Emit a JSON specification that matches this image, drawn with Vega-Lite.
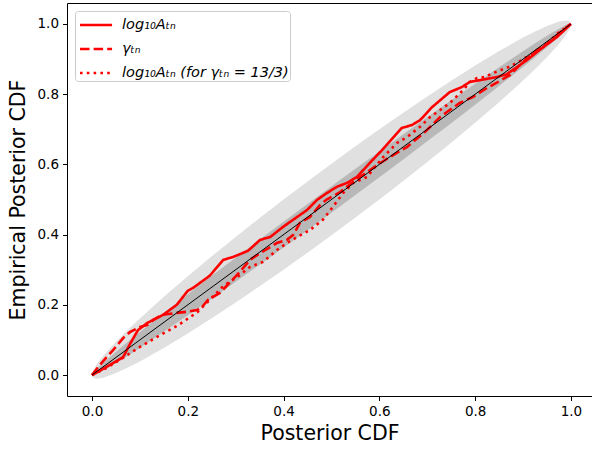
{
  "$schema": "https://vega.github.io/schema/vega-lite/v6.json",
  "width": 525,
  "height": 393,
  "autosize": {"type": "none"},
  "padding": {"left": 67, "top": 3, "right": 0, "bottom": 54},
  "config": {
    "view": {"stroke": null},
    "font": "DejaVu Sans",
    "axis": {
      "domainColor": "black", "tickColor": "black", "labelColor": "black", "titleColor": "black",
      "labelFontSize": 13.5, "titleFontSize": 20.5, "titleFontWeight": "normal",
      "grid": false, "tickSize": 4.5, "labelPadding": 4, "domainWidth": 1, "tickWidth": 1,
      "labelFont": "DejaVu Sans", "titleFont": "DejaVu Sans"
    }
  },
  "datasets": {
    "band": [
      {"x": 0, "l1": 0, "h1": 0, "l2": 0, "h2": 0},
      {"x": 0.003, "l1": -0.0082, "h1": 0.0142, "l2": -0.0011, "h2": 0.0071},
      {"x": 0.01, "l1": -0.0103, "h1": 0.0303, "l2": 0.0025, "h2": 0.0175},
      {"x": 0.025, "l1": -0.0068, "h1": 0.0568, "l2": 0.0133, "h2": 0.0367},
      {"x": 0.05, "l1": 0.0055, "h1": 0.0945, "l2": 0.0337, "h2": 0.0663},
      {"x": 0.075, "l1": 0.0213, "h1": 0.1287, "l2": 0.0552, "h2": 0.0948},
      {"x": 0.1, "l1": 0.0388, "h1": 0.1612, "l2": 0.0775, "h2": 0.1225},
      {"x": 0.15, "l1": 0.0772, "h1": 0.2228, "l2": 0.1232, "h2": 0.1768},
      {"x": 0.2, "l1": 0.1184, "h1": 0.2816, "l2": 0.17, "h2": 0.23},
      {"x": 0.25, "l1": 0.1617, "h1": 0.3383, "l2": 0.2175, "h2": 0.2825},
      {"x": 0.3, "l1": 0.2065, "h1": 0.3935, "l2": 0.2656, "h2": 0.3344},
      {"x": 0.35, "l1": 0.2527, "h1": 0.4473, "l2": 0.3142, "h2": 0.3858},
      {"x": 0.4, "l1": 0.3001, "h1": 0.4999, "l2": 0.3633, "h2": 0.4367},
      {"x": 0.45, "l1": 0.3485, "h1": 0.5515, "l2": 0.4127, "h2": 0.4873},
      {"x": 0.5, "l1": 0.398, "h1": 0.602, "l2": 0.4625, "h2": 0.5375},
      {"x": 0.55, "l1": 0.4485, "h1": 0.6515, "l2": 0.5127, "h2": 0.5873},
      {"x": 0.6, "l1": 0.5001, "h1": 0.6999, "l2": 0.5633, "h2": 0.6367},
      {"x": 0.65, "l1": 0.5527, "h1": 0.7473, "l2": 0.6142, "h2": 0.6858},
      {"x": 0.7, "l1": 0.6065, "h1": 0.7935, "l2": 0.6656, "h2": 0.7344},
      {"x": 0.75, "l1": 0.6617, "h1": 0.8383, "l2": 0.7175, "h2": 0.7825},
      {"x": 0.8, "l1": 0.7184, "h1": 0.8816, "l2": 0.77, "h2": 0.83},
      {"x": 0.85, "l1": 0.7772, "h1": 0.9228, "l2": 0.8232, "h2": 0.8768},
      {"x": 0.9, "l1": 0.8388, "h1": 0.9612, "l2": 0.8775, "h2": 0.9225},
      {"x": 0.925, "l1": 0.8713, "h1": 0.9787, "l2": 0.9052, "h2": 0.9448},
      {"x": 0.95, "l1": 0.9055, "h1": 0.9945, "l2": 0.9337, "h2": 0.9663},
      {"x": 0.975, "l1": 0.9432, "h1": 1.0068, "l2": 0.9633, "h2": 0.9867},
      {"x": 0.99, "l1": 0.9697, "h1": 1.0103, "l2": 0.9825, "h2": 0.9975},
      {"x": 0.997, "l1": 0.9858, "h1": 1.0082, "l2": 0.9929, "h2": 1.0011},
      {"x": 1, "l1": 1, "h1": 1, "l2": 1, "h2": 1}
    ],
    "curves": [
      {"series": "log₁₀Aₜₙ", "x": 0, "y": 0},
      {"series": "log₁₀Aₜₙ", "x": 0.02, "y": 0.015},
      {"series": "log₁₀Aₜₙ", "x": 0.044, "y": 0.034},
      {"series": "log₁₀Aₜₙ", "x": 0.065, "y": 0.051},
      {"series": "log₁₀Aₜₙ", "x": 0.08, "y": 0.09},
      {"series": "log₁₀Aₜₙ", "x": 0.096, "y": 0.128},
      {"series": "log₁₀Aₜₙ", "x": 0.115, "y": 0.148},
      {"series": "log₁₀Aₜₙ", "x": 0.148, "y": 0.171},
      {"series": "log₁₀Aₜₙ", "x": 0.177, "y": 0.2},
      {"series": "log₁₀Aₜₙ", "x": 0.2, "y": 0.24},
      {"series": "log₁₀Aₜₙ", "x": 0.211, "y": 0.248},
      {"series": "log₁₀Aₜₙ", "x": 0.246, "y": 0.283},
      {"series": "log₁₀Aₜₙ", "x": 0.274, "y": 0.328},
      {"series": "log₁₀Aₜₙ", "x": 0.294, "y": 0.336},
      {"series": "log₁₀Aₜₙ", "x": 0.326, "y": 0.354},
      {"series": "log₁₀Aₜₙ", "x": 0.351, "y": 0.385},
      {"series": "log₁₀Aₜₙ", "x": 0.372, "y": 0.393},
      {"series": "log₁₀Aₜₙ", "x": 0.399, "y": 0.422},
      {"series": "log₁₀Aₜₙ", "x": 0.428, "y": 0.45},
      {"series": "log₁₀Aₜₙ", "x": 0.449, "y": 0.47},
      {"series": "log₁₀Aₜₙ", "x": 0.47, "y": 0.499},
      {"series": "log₁₀Aₜₙ", "x": 0.49, "y": 0.518},
      {"series": "log₁₀Aₜₙ", "x": 0.511, "y": 0.536},
      {"series": "log₁₀Aₜₙ", "x": 0.532, "y": 0.547},
      {"series": "log₁₀Aₜₙ", "x": 0.553, "y": 0.564},
      {"series": "log₁₀Aₜₙ", "x": 0.58, "y": 0.604},
      {"series": "log₁₀Aₜₙ", "x": 0.605, "y": 0.64},
      {"series": "log₁₀Aₜₙ", "x": 0.647, "y": 0.704},
      {"series": "log₁₀Aₜₙ", "x": 0.668, "y": 0.712},
      {"series": "log₁₀Aₜₙ", "x": 0.685, "y": 0.726},
      {"series": "log₁₀Aₜₙ", "x": 0.71, "y": 0.763},
      {"series": "log₁₀Aₜₙ", "x": 0.747, "y": 0.806},
      {"series": "log₁₀Aₜₙ", "x": 0.772, "y": 0.82},
      {"series": "log₁₀Aₜₙ", "x": 0.789, "y": 0.835},
      {"series": "log₁₀Aₜₙ", "x": 0.81, "y": 0.84},
      {"series": "log₁₀Aₜₙ", "x": 0.846, "y": 0.849},
      {"series": "log₁₀Aₜₙ", "x": 0.866, "y": 0.857},
      {"series": "log₁₀Aₜₙ", "x": 0.908, "y": 0.897},
      {"series": "log₁₀Aₜₙ", "x": 0.942, "y": 0.934},
      {"series": "log₁₀Aₜₙ", "x": 0.971, "y": 0.963},
      {"series": "log₁₀Aₜₙ", "x": 1, "y": 1},
      {"series": "γₜₙ", "x": 0, "y": 0},
      {"series": "γₜₙ", "x": 0.017, "y": 0.03},
      {"series": "γₜₙ", "x": 0.044, "y": 0.071},
      {"series": "γₜₙ", "x": 0.065, "y": 0.105},
      {"series": "γₜₙ", "x": 0.079, "y": 0.122},
      {"series": "γₜₙ", "x": 0.1, "y": 0.137},
      {"series": "γₜₙ", "x": 0.115, "y": 0.142},
      {"series": "γₜₙ", "x": 0.128, "y": 0.157},
      {"series": "γₜₙ", "x": 0.146, "y": 0.171},
      {"series": "γₜₙ", "x": 0.177, "y": 0.177},
      {"series": "γₜₙ", "x": 0.198, "y": 0.18},
      {"series": "γₜₙ", "x": 0.219, "y": 0.185},
      {"series": "γₜₙ", "x": 0.23, "y": 0.194},
      {"series": "γₜₙ", "x": 0.242, "y": 0.214},
      {"series": "γₜₙ", "x": 0.267, "y": 0.234},
      {"series": "γₜₙ", "x": 0.282, "y": 0.255},
      {"series": "γₜₙ", "x": 0.303, "y": 0.285},
      {"series": "γₜₙ", "x": 0.33, "y": 0.328},
      {"series": "γₜₙ", "x": 0.351, "y": 0.347},
      {"series": "γₜₙ", "x": 0.386, "y": 0.376},
      {"series": "γₜₙ", "x": 0.407, "y": 0.385},
      {"series": "γₜₙ", "x": 0.42, "y": 0.399},
      {"series": "γₜₙ", "x": 0.434, "y": 0.433},
      {"series": "γₜₙ", "x": 0.455, "y": 0.45},
      {"series": "γₜₙ", "x": 0.476, "y": 0.484},
      {"series": "γₜₙ", "x": 0.49, "y": 0.5},
      {"series": "γₜₙ", "x": 0.518, "y": 0.521},
      {"series": "γₜₙ", "x": 0.545, "y": 0.55},
      {"series": "γₜₙ", "x": 0.566, "y": 0.57},
      {"series": "γₜₙ", "x": 0.595, "y": 0.598},
      {"series": "γₜₙ", "x": 0.622, "y": 0.621},
      {"series": "γₜₙ", "x": 0.658, "y": 0.65},
      {"series": "γₜₙ", "x": 0.695, "y": 0.692},
      {"series": "γₜₙ", "x": 0.727, "y": 0.735},
      {"series": "γₜₙ", "x": 0.747, "y": 0.755},
      {"series": "γₜₙ", "x": 0.768, "y": 0.775},
      {"series": "γₜₙ", "x": 0.795, "y": 0.792},
      {"series": "γₜₙ", "x": 0.825, "y": 0.818},
      {"series": "γₜₙ", "x": 0.848, "y": 0.835},
      {"series": "γₜₙ", "x": 0.873, "y": 0.855},
      {"series": "γₜₙ", "x": 0.9, "y": 0.892},
      {"series": "γₜₙ", "x": 0.929, "y": 0.926},
      {"series": "γₜₙ", "x": 0.956, "y": 0.949},
      {"series": "γₜₙ", "x": 0.983, "y": 0.983},
      {"series": "γₜₙ", "x": 1, "y": 1},
      {"series": "log₁₀Aₜₙ (for γₜₙ = 13/3)", "x": 0, "y": 0},
      {"series": "log₁₀Aₜₙ (for γₜₙ = 13/3)", "x": 0.03, "y": 0.02},
      {"series": "log₁₀Aₜₙ (for γₜₙ = 13/3)", "x": 0.06, "y": 0.045},
      {"series": "log₁₀Aₜₙ (for γₜₙ = 13/3)", "x": 0.1, "y": 0.08},
      {"series": "log₁₀Aₜₙ (for γₜₙ = 13/3)", "x": 0.135, "y": 0.108},
      {"series": "log₁₀Aₜₙ (for γₜₙ = 13/3)", "x": 0.18, "y": 0.142},
      {"series": "log₁₀Aₜₙ (for γₜₙ = 13/3)", "x": 0.221, "y": 0.18},
      {"series": "log₁₀Aₜₙ (for γₜₙ = 13/3)", "x": 0.274, "y": 0.253},
      {"series": "log₁₀Aₜₙ (for γₜₙ = 13/3)", "x": 0.309, "y": 0.285},
      {"series": "log₁₀Aₜₙ (for γₜₙ = 13/3)", "x": 0.33, "y": 0.308},
      {"series": "log₁₀Aₜₙ (for γₜₙ = 13/3)", "x": 0.357, "y": 0.322},
      {"series": "log₁₀Aₜₙ (for γₜₙ = 13/3)", "x": 0.386, "y": 0.356},
      {"series": "log₁₀Aₜₙ (for γₜₙ = 13/3)", "x": 0.407, "y": 0.376},
      {"series": "log₁₀Aₜₙ (for γₜₙ = 13/3)", "x": 0.428, "y": 0.393},
      {"series": "log₁₀Aₜₙ (for γₜₙ = 13/3)", "x": 0.455, "y": 0.413},
      {"series": "log₁₀Aₜₙ (for γₜₙ = 13/3)", "x": 0.482, "y": 0.442},
      {"series": "log₁₀Aₜₙ (for γₜₙ = 13/3)", "x": 0.503, "y": 0.479},
      {"series": "log₁₀Aₜₙ (for γₜₙ = 13/3)", "x": 0.524, "y": 0.518},
      {"series": "log₁₀Aₜₙ (for γₜₙ = 13/3)", "x": 0.545, "y": 0.547},
      {"series": "log₁₀Aₜₙ (for γₜₙ = 13/3)", "x": 0.574, "y": 0.564},
      {"series": "log₁₀Aₜₙ (for γₜₙ = 13/3)", "x": 0.608, "y": 0.621},
      {"series": "log₁₀Aₜₙ (for γₜₙ = 13/3)", "x": 0.637, "y": 0.661},
      {"series": "log₁₀Aₜₙ (for γₜₙ = 13/3)", "x": 0.658, "y": 0.678},
      {"series": "log₁₀Aₜₙ (for γₜₙ = 13/3)", "x": 0.685, "y": 0.707},
      {"series": "log₁₀Aₜₙ (for γₜₙ = 13/3)", "x": 0.706, "y": 0.735},
      {"series": "log₁₀Aₜₙ (for γₜₙ = 13/3)", "x": 0.727, "y": 0.755},
      {"series": "log₁₀Aₜₙ (for γₜₙ = 13/3)", "x": 0.747, "y": 0.775},
      {"series": "log₁₀Aₜₙ (for γₜₙ = 13/3)", "x": 0.758, "y": 0.789},
      {"series": "log₁₀Aₜₙ (for γₜₙ = 13/3)", "x": 0.775, "y": 0.812},
      {"series": "log₁₀Aₜₙ (for γₜₙ = 13/3)", "x": 0.789, "y": 0.835},
      {"series": "log₁₀Aₜₙ (for γₜₙ = 13/3)", "x": 0.804, "y": 0.846},
      {"series": "log₁₀Aₜₙ (for γₜₙ = 13/3)", "x": 0.82, "y": 0.849},
      {"series": "log₁₀Aₜₙ (for γₜₙ = 13/3)", "x": 0.837, "y": 0.86},
      {"series": "log₁₀Aₜₙ (for γₜₙ = 13/3)", "x": 0.866, "y": 0.875},
      {"series": "log₁₀Aₜₙ (for γₜₙ = 13/3)", "x": 0.887, "y": 0.889},
      {"series": "log₁₀Aₜₙ (for γₜₙ = 13/3)", "x": 0.908, "y": 0.906},
      {"series": "log₁₀Aₜₙ (for γₜₙ = 13/3)", "x": 0.942, "y": 0.934},
      {"series": "log₁₀Aₜₙ (for γₜₙ = 13/3)", "x": 0.973, "y": 0.974},
      {"series": "log₁₀Aₜₙ (for γₜₙ = 13/3)", "x": 1, "y": 1}
    ],
    "diag": [{"x": 0, "y": 0}, {"x": 1, "y": 1}]
  },
  "layer": [
    {
      "data": {"name": "band"},
      "mark": {"type": "area", "color": "#e0e0e0", "opacity": 1},
      "encoding": {
        "x": {"field": "x", "type": "quantitative", "scale": {"domain": [-0.0522, 1.044], "nice": false, "zero": false},
              "axis": {"orient": "bottom", "values": [0, 0.2, 0.4, 0.6, 0.8, 1.0], "format": ".1f", "title": "Posterior CDF", "titlePadding": 5}},
        "y": {"field": "l1", "type": "quantitative", "scale": {"domain": [-0.0598, 1.0598], "nice": false, "zero": false},
              "axis": {"values": [0, 0.2, 0.4, 0.6, 0.8, 1.0], "format": ".1f", "title": "Empirical Posterior CDF", "titlePadding": 9}},
        "y2": {"field": "h1"}
      }
    },
    {
      "data": {"name": "band"},
      "mark": {"type": "area", "color": "#b8b8b8", "opacity": 1},
      "encoding": {
        "x": {"field": "x", "type": "quantitative", "axis": null},
        "y": {"field": "l2", "type": "quantitative", "axis": {"values": [0, 0.2, 0.4, 0.6, 0.8, 1.0], "format": ".1f", "title": "Empirical Posterior CDF", "titlePadding": 9}},
        "y2": {"field": "h2"}
      }
    },
    {
      "data": {"name": "curves"},
      "mark": {"type": "line", "color": "red", "strokeWidth": 2.6, "strokeCap": "butt"},
      "encoding": {
        "x": {"field": "x", "type": "quantitative", "axis": null},
        "y": {"field": "y", "type": "quantitative", "axis": {"values": [0, 0.2, 0.4, 0.6, 0.8, 1.0], "format": ".1f", "title": "Empirical Posterior CDF", "titlePadding": 9}},
        "strokeDash": {
          "field": "series", "type": "nominal",
          "scale": {"domain": ["log₁₀Aₜₙ", "γₜₙ", "log₁₀Aₜₙ (for γₜₙ = 13/3)"], "range": [[1, 0], [9.5, 4.1], [2.6, 4.2]]},
          "legend": {
            "title": null, "orient": "top-left", "offset": 8, "symbolType": "M-0.8,0H2.05", "symbolSize": 506,
            "symbolStrokeWidth": 2.6, "symbolStrokeColor": "red", "labelFont": "DejaVu Sans", "labelFontSize": 14.5,
            "labelFontStyle": "italic", "labelColor": "black", "labelLimit": 300, "labelOffset": 20,
            "padding": 1, "rowPadding": 4, "strokeColor": "#cccccc", "fillColor": "rgba(255,255,255,0.8)", "cornerRadius": 3
          }
        }
      }
    },
    {
      "data": {"name": "diag"},
      "mark": {"type": "line", "color": "black", "strokeWidth": 1},
      "encoding": {
        "x": {"field": "x", "type": "quantitative", "axis": {"orient": "top", "labels": false, "ticks": false, "title": null, "domain": true}},
        "y": {"field": "y", "type": "quantitative", "axis": {"values": [0, 0.2, 0.4, 0.6, 0.8, 1.0], "format": ".1f", "title": "Empirical Posterior CDF", "titlePadding": 9}}
      }
    }
  ],
  "resolve": {"axis": {"x": "independent"}}
}
